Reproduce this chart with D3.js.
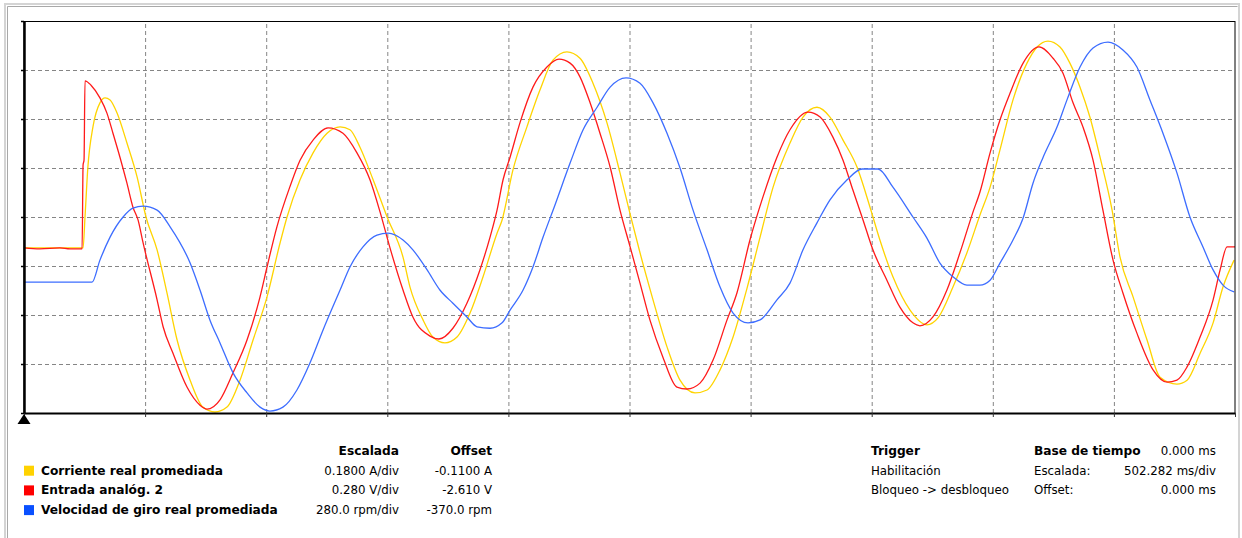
<!DOCTYPE html>
<html>
<head>
<meta charset="utf-8">
<script src="https://cdn.jsdelivr.net/npm/d3@7"></script>
<style>
  body { margin: 0; background: #fff; }
  text { font-family: "DejaVu Sans", sans-serif; font-size: 11.8px; fill: #000; }
  .bold { font-weight: bold; font-size: 12.2px; }
</style>
</head>
<body>
<script>
// 1: DATA (time in ms, value in screen divisions)
const msPerDiv = 502.282;
const timeTicks = d3.range(0, 11).map(i => i * msPerDiv);
const divTicks = d3.range(0, 9);

const corriente = [
  [0,3.37],[108,3.37],[245,3.37],[253,4.00],[265,5.02],[286,5.84],[315,6.33],[336,6.43],[357,6.39],
  [386,6.12],[427,5.51],[469,4.82],[506,4.00],[552,3.33],[593,2.45],[635,1.49],[689,0.67],[742,0.12],
  [792,0.02],[842,0.12],[896,0.67],[950,1.49],[1008,2.37],[1062,3.47],[1091,4.00],[1145,4.76],[1199,5.31],
  [1257,5.71],[1311,5.84],[1352,5.78],[1393,5.43],[1448,4.76],[1506,4.00],[1572,3.18],[1601,2.57],[1655,1.90],
  [1696,1.55],[1746,1.43],[1796,1.55],[1850,2.04],[1904,2.78],[1962,3.67],[1983,3.94],[2028,4.96],[2086,5.84],
  [2140,6.59],[2194,7.20],[2252,7.37],[2306,7.24],[2360,6.73],[2418,5.92],[2472,4.90],[2514,4.06],[2555,3.27],
  [2609,2.31],[2667,1.35],[2721,0.67],[2783,0.41],[2833,0.47],[2887,0.88],[2941,1.55],[2999,2.55],[3053,3.59],
  [3107,4.61],[3177,5.51],[3231,6.04],[3289,6.24],[3343,6.04],[3397,5.57],[3455,5.02],[3509,4.20],[3550,3.53],
  [3604,2.78],[3675,2.10],[3745,1.80],[3791,1.94],[3853,2.57],[3911,3.27],[3965,4.04],[4007,4.61],[4048,5.37],
  [4102,6.39],[4160,7.14],[4202,7.47],[4247,7.59],[4297,7.47],[4338,7.14],[4380,6.65],[4421,6.04],[4463,5.22],
  [4513,4.14],[4546,3.18],[4600,2.37],[4658,1.49],[4712,0.73],[4782,0.59],[4824,0.67],[4878,1.22],[4932,1.84],
  [4973,2.57],[5019,3.12]
];

const entrada = [
  [0,3.37],[66,3.35],[149,3.37],[191,3.35],[241,3.35],[245,5.06],[249,5.16],[253,6.78],[278,6.69],[315,6.43],
  [344,6.12],[369,5.71],[398,5.22],[427,4.69],[452,4.20],[473,3.94],[494,3.47],[552,2.31],[577,1.76],[618,1.22],
  [676,0.53],[730,0.16],[759,0.08],[813,0.27],[867,0.82],[925,1.49],[979,2.37],[1008,2.98],[1049,3.80],
  [1103,4.62],[1145,5.16],[1199,5.57],[1261,5.82],[1323,5.71],[1381,5.31],[1435,4.76],[1477,4.10],[1518,3.37],
  [1572,2.51],[1613,1.96],[1684,1.57],[1721,1.51],[1779,1.73],[1837,2.24],[1891,2.92],[1933,3.59],[1962,4.14],
  [1987,4.76],[2016,5.22],[2057,5.92],[2111,6.65],[2169,7.06],[2219,7.22],[2265,7.14],[2306,6.86],[2348,6.33],
  [2389,5.71],[2431,5.02],[2472,4.14],[2514,3.39],[2555,2.65],[2596,1.90],[2650,1.14],[2708,0.53],[2750,0.49],
  [2804,0.61],[2858,1.08],[2916,1.90],[2957,2.45],[3011,3.53],[3065,4.41],[3123,5.22],[3177,5.78],[3252,6.14],
  [3302,6.04],[3355,5.63],[3397,5.16],[3438,4.55],[3480,3.94],[3521,3.33],[3579,2.71],[3633,2.16],[3687,1.84],
  [3716,1.78],[3770,1.96],[3828,2.51],[3882,3.27],[3936,4.10],[3965,4.51],[4007,5.31],[4048,5.98],[4090,6.53],
  [4144,7.14],[4210,7.47],[4268,7.24],[4309,6.94],[4351,6.33],[4392,5.84],[4434,5.16],[4475,4.14],[4517,3.12],
  [4558,2.45],[4616,1.63],[4683,0.88],[4741,0.63],[4782,0.67],[4824,0.94],[4878,1.55],[4932,2.31],[4961,2.92],
  [4990,3.39],[5023,3.39]
];

const velocidad = [
  [0,2.67],[149,2.67],[282,2.67],[315,3.12],[357,3.59],[411,4.00],[452,4.18],[494,4.22],[552,4.14],[606,3.80],
  [689,3.06],[730,2.51],[771,1.90],[813,1.43],[867,0.82],[925,0.41],[979,0.12],[1020,0.04],[1074,0.12],
  [1132,0.47],[1186,1.02],[1240,1.69],[1311,2.51],[1352,2.98],[1406,3.39],[1464,3.63],[1510,3.67],[1572,3.53],
  [1613,3.33],[1672,2.92],[1725,2.51],[1779,2.24],[1837,1.96],[1879,1.76],[1933,1.73],[1983,1.84],[2016,2.10],
  [2070,2.51],[2111,2.98],[2153,3.59],[2202,4.24],[2265,5.10],[2319,5.78],[2377,6.24],[2431,6.65],[2497,6.84],
  [2555,6.73],[2609,6.33],[2667,5.71],[2721,5.00],[2775,4.14],[2833,3.33],[2887,2.57],[2941,2.04],[3003,1.84],
  [3053,1.90],[3123,2.31],[3177,2.65],[3231,3.33],[3289,3.88],[3343,4.35],[3414,4.76],[3476,4.98],[3542,4.98],
  [3604,4.61],[3687,4.00],[3745,3.57],[3799,3.06],[3853,2.78],[3911,2.61],[3965,2.61],[4007,2.71],[4048,3.06],
  [4102,3.53],[4144,3.98],[4185,4.69],[4227,5.22],[4285,5.84],[4326,6.39],[4380,7.06],[4434,7.45],[4496,7.57],
  [4558,7.41],[4616,7.06],[4670,6.39],[4724,5.71],[4782,4.90],[4836,4.00],[4890,3.39],[4932,2.92],[4973,2.61],
  [5019,2.47]
];

const seriesNames = ["Corriente real promediada", "Entrada analóg. 2", "Velocidad de giro real promediada"];
const seriesScales = ["0.1800 A/div", "0.280 V/div", "280.0 rpm/div"];
const seriesOffsets = ["-0.1100 A", "-2.610 V", "-370.0 rpm"];
const seriesColors = ["#ffd400", "#ff1a1a", "#3d6dff"];
const swatchColors = ["#ffd200", "#ff0000", "#0a50ff"];

const triggerLabels = ["Trigger", "Habilitación", "Bloqueo -> desbloqueo"];
const timeLabels = ["Base de tiempo", "Escalada:", "Offset:"];
const timeValues = ["0.000 ms", "502.282 ms/div", "0.000 ms"];

// 2: SVG AND FRAME
const margin = { top: 21, left: 24 },
      width = 1211,
      height = 392;

const svg = d3.select("body")
    .append("svg")
    .attr("width", 1242)
    .attr("height", 538);

svg.append("rect")
    .attr("x", 5).attr("y", 4)
    .attr("width", 1234).attr("height", 545)
    .attr("fill", "none")
    .attr("stroke", "#d4d4d4")
    .attr("stroke-width", 2);
svg.append("path")
    .attr("d", "M7.5,545V6.5H1237.5")
    .attr("fill", "none")
    .attr("stroke", "#a8a8a8");

const plot = svg.append("g")
    .attr("transform", `translate(${margin.left},${margin.top})`);

// 3: SCALES
const x = d3.scaleLinear()
    .domain([0, 10 * msPerDiv])
    .range([0, width]);

const y = d3.scaleLinear()
    .domain([0, 8])
    .range([height, 0]);

// 4: GRID
const vGrid = plot.append("g")
    .attr("transform", `translate(0,${height})`)
    .call(d3.axisBottom(x).tickValues(timeTicks.slice(1, -1)).tickSize(-height).tickFormat(""));
vGrid.select(".domain").remove();
vGrid.selectAll("line")
    .attr("stroke", "#858585")
    .attr("stroke-dasharray", "4,3");

const hGrid = plot.append("g")
    .call(d3.axisLeft(y).tickValues(divTicks.slice(1, -1)).tickSize(-width).tickFormat(""));
hGrid.select(".domain").remove();
hGrid.selectAll("line")
    .attr("stroke", "#858585")
    .attr("stroke-dasharray", "4,3");

// 5: TRACES
const line = d3.line()
    .x(d => x(d[0]))
    .y(d => y(d[1]))
    .curve(d3.curveMonotoneX);

[corriente, entrada, velocidad].forEach((s, i) => {
    plot.append("path")
        .datum(s)
        .attr("d", line)
        .attr("fill", "none")
        .attr("stroke", seriesColors[i])
        .attr("stroke-width", 1.3);
});

// 6: AXES AND BORDER
plot.append("rect")
    .attr("x", 0).attr("y", 0.5)
    .attr("width", width).attr("height", height)
    .attr("fill", "none")
    .attr("stroke", "#000");

const xAxis = plot.append("g")
    .attr("transform", `translate(0,${height})`)
    .call(d3.axisBottom(x).tickValues(timeTicks).tickSize(4).tickSizeOuter(0).tickFormat(""));
xAxis.select(".domain").attr("stroke", "#000").attr("stroke-width", 2);
xAxis.selectAll("line").attr("stroke", "#333");

const yAxis = plot.append("g")
    .call(d3.axisLeft(y).tickValues(divTicks).tickSize(3).tickSizeOuter(0).tickFormat(""));
yAxis.select(".domain").attr("stroke", "#000").attr("stroke-width", 2.5);
yAxis.selectAll("line").attr("stroke", "#000").attr("stroke-width", 1.5);

// trigger marker
plot.append("path")
    .attr("transform", `translate(${x(0)},${height + 1})`)
    .attr("d", "M0,0L6.5,10L-6.5,10Z")
    .attr("fill", "#000");

// 7: LEGEND
const legendTop = 455, rowGap = 19.7;

svg.append("text").attr("class", "bold")
    .attr("x", 399).attr("y", legendTop).attr("text-anchor", "end").text("Escalada");
svg.append("text").attr("class", "bold")
    .attr("x", 492).attr("y", legendTop).attr("text-anchor", "end").text("Offset");

const rows = svg.selectAll(".legend")
    .data(seriesNames)
    .enter()
    .append("g")
    .attr("class", "legend")
    .attr("transform", (d, i) => `translate(0,${legendTop + (i + 1) * rowGap})`);

rows.append("rect")
    .attr("x", 24).attr("y", -9)
    .attr("width", 10).attr("height", 10)
    .attr("fill", (d, i) => swatchColors[i]);

rows.append("text").attr("class", "bold")
    .attr("x", 41).attr("y", 0)
    .text(d => d);

rows.append("text")
    .attr("x", 399).attr("y", 0).attr("text-anchor", "end")
    .text((d, i) => seriesScales[i]);

rows.append("text")
    .attr("x", 492).attr("y", 0).attr("text-anchor", "end")
    .text((d, i) => seriesOffsets[i]);

triggerLabels.forEach((t, i) => {
    svg.append("text").attr("class", i === 0 ? "bold" : null)
        .attr("x", 871).attr("y", legendTop + i * rowGap)
        .text(t);
});

timeLabels.forEach((t, i) => {
    svg.append("text").attr("class", i === 0 ? "bold" : null)
        .attr("x", 1034).attr("y", legendTop + i * rowGap)
        .text(t);
    svg.append("text")
        .attr("x", 1216).attr("y", legendTop + i * rowGap).attr("text-anchor", "end")
        .text(timeValues[i]);
});
</script>
</body>
</html>
